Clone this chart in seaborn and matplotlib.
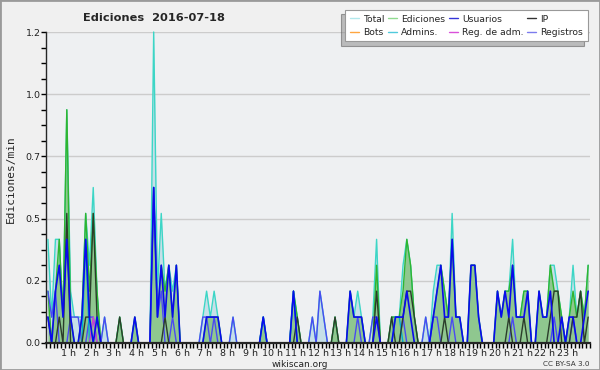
#%% IMPORT LIBRARIES
import matplotlib
matplotlib.use('Agg')
import matplotlib.pyplot as plt
from matplotlib.lines import Line2D
from matplotlib.patches import Rectangle
import pandas as pd
import seaborn as sns

#%% DATA (ediciones/min, 10 min bins, 2016-07-18)
usuarios = [0.1, 0, 0.2, 0.3, 0.1, 0.4, 0.1, 0, 0, 0.1, 0.4, 0.1,
            0, 0.1, 0, 0, 0, 0, 0, 0, 0, 0, 0, 0.1,
            0, 0, 0, 0, 0.6, 0.1, 0.3, 0.1, 0.3, 0.1, 0.3, 0,
            0, 0, 0, 0, 0, 0, 0.1, 0.1, 0.1, 0.1, 0, 0,
            0, 0, 0, 0, 0, 0, 0, 0, 0, 0.1, 0, 0,
            0, 0, 0, 0, 0, 0.2, 0, 0, 0, 0, 0, 0,
            0, 0, 0, 0, 0, 0, 0, 0, 0.2, 0.1, 0.1, 0.1,
            0, 0, 0, 0.1, 0, 0, 0, 0, 0.1, 0.1, 0.1, 0.2,
            0.1, 0, 0, 0, 0, 0, 0.1, 0.2, 0.3, 0.1, 0.1, 0.4,
            0.1, 0.1, 0, 0, 0.3, 0.3, 0.1, 0, 0, 0, 0, 0.2,
            0.1, 0.2, 0.1, 0.3, 0.1, 0.1, 0.1, 0.2, 0, 0, 0.2, 0.1,
            0.1, 0.2, 0, 0, 0.1, 0, 0.1, 0.1, 0, 0, 0.1, 0.2]

ip = [0.1, 0, 0, 0.1, 0, 0.5, 0, 0, 0, 0, 0.1, 0.1,
      0.5, 0.1, 0, 0, 0, 0, 0, 0.1, 0, 0, 0, 0,
      0, 0, 0, 0, 0, 0, 0, 0.1, 0, 0, 0, 0,
      0, 0, 0, 0, 0, 0, 0, 0, 0, 0, 0, 0,
      0, 0, 0, 0, 0, 0, 0, 0, 0, 0, 0, 0,
      0, 0, 0, 0, 0, 0, 0.1, 0, 0, 0, 0, 0,
      0, 0, 0, 0, 0.1, 0, 0, 0, 0, 0, 0, 0,
      0, 0, 0, 0.2, 0, 0, 0, 0.1, 0, 0, 0.1, 0.2,
      0.2, 0.1, 0, 0, 0, 0, 0, 0, 0, 0.1, 0, 0,
      0, 0, 0, 0, 0, 0, 0, 0, 0, 0, 0, 0,
      0, 0, 0.1, 0, 0, 0, 0.1, 0, 0, 0, 0, 0,
      0, 0.1, 0.2, 0.2, 0, 0, 0, 0.1, 0.1, 0.2, 0, 0.1]

ediciones = [0.2, 0, 0.2, 0.4, 0.1, 0.9, 0.1, 0, 0, 0.1, 0.5, 0.2,
             0.5, 0.2, 0, 0, 0, 0, 0, 0.1, 0, 0, 0, 0.1,
             0, 0, 0, 0, 0.6, 0.1, 0.3, 0.2, 0.3, 0.1, 0.3, 0,
             0, 0, 0, 0, 0, 0, 0.1, 0.1, 0.1, 0.1, 0, 0,
             0, 0, 0, 0, 0, 0, 0, 0, 0, 0.1, 0, 0,
             0, 0, 0, 0, 0, 0.2, 0.1, 0, 0, 0, 0, 0,
             0, 0, 0, 0, 0.1, 0, 0, 0, 0.2, 0.1, 0.1, 0.1,
             0, 0, 0, 0.3, 0, 0, 0, 0.1, 0.1, 0.1, 0.2, 0.4,
             0.3, 0.1, 0, 0, 0, 0, 0.1, 0.2, 0.3, 0.2, 0.1, 0.4,
             0.1, 0.1, 0, 0, 0.3, 0.3, 0.1, 0, 0, 0, 0, 0.2,
             0.1, 0.2, 0.2, 0.3, 0.1, 0.1, 0.2, 0.2, 0, 0, 0.2, 0.1,
             0.1, 0.3, 0.2, 0.2, 0.1, 0, 0.1, 0.2, 0.1, 0.2, 0.1, 0.3]

registros = [0.2, 0.1, 0.2, 0, 0, 0, 0.1, 0.1, 0.1, 0, 0, 0.1,
             0.1, 0, 0, 0.1, 0, 0, 0, 0, 0, 0, 0, 0,
             0, 0, 0, 0, 0.6, 0.1, 0.2, 0, 0, 0.1, 0, 0,
             0, 0, 0, 0, 0, 0.1, 0.1, 0, 0.1, 0, 0, 0,
             0, 0.1, 0, 0, 0, 0, 0, 0, 0, 0, 0, 0,
             0, 0, 0, 0, 0, 0, 0, 0, 0, 0, 0.1, 0,
             0.2, 0.1, 0, 0, 0, 0, 0, 0, 0, 0, 0.1, 0,
             0, 0, 0.1, 0.1, 0, 0, 0, 0, 0, 0, 0.1, 0,
             0, 0, 0, 0, 0.1, 0, 0.1, 0.1, 0, 0, 0, 0.1,
             0, 0, 0, 0, 0, 0, 0, 0, 0, 0, 0, 0,
             0, 0, 0, 0.1, 0, 0, 0, 0, 0, 0, 0, 0,
             0, 0, 0.1, 0, 0, 0, 0, 0.1, 0, 0, 0, 0]

total = [0.4, 0.1, 0.4, 0.4, 0.1, 0.9, 0.2, 0.1, 0.1, 0.1, 0.5, 0.3,
         0.6, 0.2, 0, 0.1, 0, 0, 0, 0.1, 0, 0, 0, 0.1,
         0, 0, 0, 0, 1.2, 0.2, 0.5, 0.2, 0.3, 0.2, 0.3, 0,
         0, 0, 0, 0, 0, 0.1, 0.2, 0.1, 0.2, 0.1, 0, 0,
         0, 0.1, 0, 0, 0, 0, 0, 0, 0, 0.1, 0, 0,
         0, 0, 0, 0, 0, 0.2, 0.1, 0, 0, 0, 0.1, 0,
         0.2, 0.1, 0, 0, 0.1, 0, 0, 0, 0.2, 0.1, 0.2, 0.1,
         0, 0, 0.1, 0.4, 0, 0, 0, 0.1, 0.1, 0.1, 0.3, 0.4,
         0.3, 0.1, 0, 0, 0.1, 0, 0.2, 0.3, 0.3, 0.2, 0.1, 0.5,
         0.1, 0.1, 0, 0, 0.3, 0.3, 0.1, 0, 0, 0, 0, 0.2,
         0.1, 0.2, 0.2, 0.4, 0.1, 0.1, 0.2, 0.2, 0, 0, 0.2, 0.1,
         0.1, 0.3, 0.3, 0.2, 0.1, 0, 0.1, 0.3, 0.1, 0.2, 0.1, 0.3]

admins = [0, 0, 0, 0, 0, 0, 0, 0, 0, 0, 0.4, 0,
          0, 0, 0, 0, 0, 0, 0, 0, 0, 0, 0, 0,
          0, 0, 0, 0, 0, 0, 0, 0, 0, 0, 0, 0,
          0, 0, 0, 0, 0, 0, 0, 0, 0, 0, 0, 0,
          0, 0, 0, 0, 0, 0, 0, 0, 0, 0.1, 0, 0,
          0, 0, 0, 0, 0, 0.2, 0, 0, 0, 0, 0, 0,
          0, 0, 0, 0, 0, 0, 0, 0, 0, 0, 0, 0,
          0, 0, 0, 0, 0, 0, 0, 0, 0.1, 0.1, 0, 0,
          0, 0, 0, 0, 0, 0, 0, 0, 0, 0, 0, 0,
          0, 0, 0, 0, 0, 0, 0, 0, 0, 0, 0, 0,
          0, 0, 0, 0, 0, 0, 0, 0, 0, 0, 0, 0,
          0, 0, 0, 0, 0, 0, 0, 0, 0, 0, 0, 0]

reg_adm = [0] * 144
reg_adm[12] = 0.1
bots = [0] * 144

minutos = [10 * i + 5 for i in range(144)]
horas = list(range(1, 24))

df = pd.DataFrame({'min': minutos, 'Total': total, 'Ediciones': ediciones,
                   'Usuarios': usuarios, 'IP': ip, 'Bots': bots,
                   'Admins.': admins, 'Reg. de adm.': reg_adm,
                   'Registros': registros})

#%% STYLE
sns.set_style('ticks')
plt.rcParams['font.family'] = ['DejaVu Sans']

fig = plt.figure(figsize=(6, 3.7), dpi=100, facecolor='#f0f0f0')
fig.patches.append(Rectangle((0, 0), 1, 1, transform=fig.transFigure,
                             fill=False, ec='#9a9a9a', lw=2))
ax = fig.add_axes([0.0767, 0.073, 0.9067, 0.8405])
ax.set_facecolor('#eef0f2')

#%% AREAS + LINES
ax.fill_between(df['min'], df['Total'], color='#c6dfe8', lw=0, zorder=1)
ax.fill_between(df['min'], df['Ediciones'], color='#8fc78f', lw=0, zorder=2)

lineas = [('Total', '#3cd6c6', 1.0),
          ('Ediciones', '#2fb52f', 1.0),
          ('Registros', '#4a4af2', 1.0),
          ('Admins.', '#00aed0', 1.0),
          ('Reg. de adm.', '#d040d0', 1.0),
          ('IP', '#2b3d2b', 1.0),
          ('Usuarios', '#0a0aee', 1.2)]
for i, (col, c, lw) in enumerate(lineas):
    sns.lineplot(data=df, x='min', y=col, ax=ax, color=c, lw=lw,
                 zorder=3 + i, clip_on=False)

#%% AXES
ax.set_xlim(0, 1440)
ax.set_ylim(0, 1.2)
ax.set_xticks([60 * h for h in horas])
ax.set_xticklabels([f'{h} h' for h in horas])
ax.set_xticks(range(0, 1441, 10), minor=True)
yt = [0, 0.24, 0.48, 0.72, 0.96, 1.2]
ax.set_yticks(yt)
ax.set_yticklabels([f'{v:.1f}' for v in yt])
ax.set_yticks([0.06 * k for k in range(21)], minor=True)
ax.tick_params(axis='both', which='both', length=3.5, width=1,
               direction='out', labelsize=6.8, pad=0.5, color='black',
               labelcolor='#222')
ax.yaxis.grid(True, color='#cccccc', lw=1)
ax.set_axisbelow(True)
ax.set_xlabel('')
ax.set_ylabel('')
for s in ['top', 'right']:
    ax.spines[s].set_visible(False)
ax.spines['bottom'].set_linewidth(1.6)
ax.spines['left'].set_linewidth(1)
ax.spines['bottom'].set_zorder(20)

#%% TEXTS
fig.text(0.256, 0.951, 'Ediciones  2016-07-18', fontweight='bold',
         fontsize=8.2, ha='center', va='center')
fig.text(0.018, 0.515, 'Ediciones/min', rotation=90, fontsize=8,
         ha='center', va='center', family='DejaVu Sans Mono')
fig.text(0.5, 0.016, 'wikiscan.org', fontsize=6.5, ha='center',
         va='center', color='#222')
fig.text(0.983, 0.016, 'CC BY-SA 3.0', fontsize=5.2, ha='right',
         va='center', color='#333')

#%% LEGEND
ley = [('Total', '#b2e8ec'), ('Bots', '#ffa640'),
       ('Ediciones', '#8fdb8f'), ('Admins.', '#50cadc'),
       ('Usuarios', '#3535d8'), ('Reg. de adm.', '#da50da'),
       ('IP', '#333333'), ('Registros', '#7c7cee')]
handles = [Line2D([], [], color=c, lw=1) for _, c in ley]
leg = fig.legend(handles, [n for n, _ in ley], ncol=4, loc='upper right',
                 bbox_to_anchor=(588 / 600, 1 - 10 / 370), fontsize=6.7,
                 frameon=True, fancybox=False, edgecolor='#999999',
                 handlelength=1.0, handletextpad=0.45, columnspacing=0.35,
                 labelspacing=0.45, borderpad=0.5, borderaxespad=0,
                 shadow={'ox': -3, 'oy': -3, 'facecolor': '#888888'})
leg.get_frame().set_linewidth(0.8)

fig.savefig('out.png', dpi=100, facecolor=fig.get_facecolor())
